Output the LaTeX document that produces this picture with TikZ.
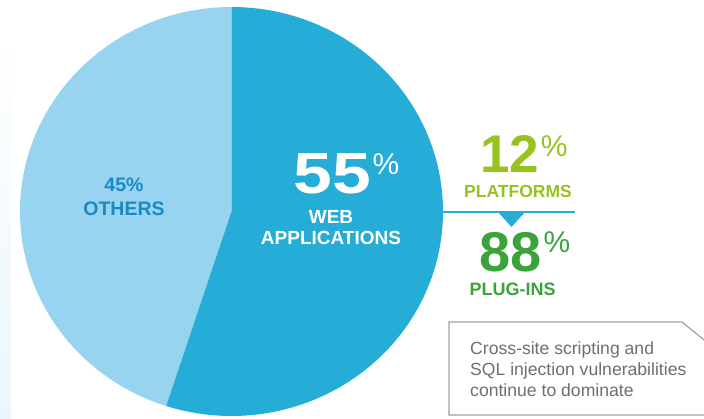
\documentclass[tikz,border=0pt]{standalone}
\usepackage{fontspec}
\setmainfont{Liberation Sans}
\usetikzlibrary{positioning}

\definecolor{pielight}{HTML}{98D3F0}
\definecolor{piedark}{HTML}{25ACD7}
\definecolor{othersblue}{HTML}{1B8AC4}
\definecolor{platgreen}{HTML}{97C21F}
\definecolor{pluggreen}{HTML}{3AA43A}
\definecolor{notegray}{HTML}{6E6E6E}
\definecolor{boxgray}{HTML}{A0A0A0}

\begin{document}
\begin{tikzpicture}[x=1pt,y=1pt,
  lbl/.style={inner sep=0pt,align=center,font=\bfseries\fontsize{19}{21}\selectfont},
  pct/.style={inner sep=0pt,anchor=north west,font=\fontsize{30}{30}\selectfont}]
  \useasboundingbox (0,0) rectangle (704,419);
  \shade[top color=white,bottom color=pielight!20] (0,0) rectangle (11,394);

  \coordinate (c) at (231.5,207.5);
  \fill[pielight] (c) -- (231.5,412) arc[start angle=90,end angle=252,x radius=211.5,y radius=204.5] -- cycle;
  \fill[piedark] (c) -- (231.5,412) arc[start angle=90,end angle=-108,x radius=211.5,y radius=204.5] -- cycle;

  \node[lbl,othersblue,font=\bfseries\fontsize{19.5}{24}\selectfont] (others) at (124,222) {45\%\\OTHERS};

  \node[inner sep=0pt,white,font=\bfseries\fontsize{58}{58}\selectfont] (n55) at (332.5,245) {\scalebox{1.2}[1]{55}};
  \node[pct,white] (p55) at ([xshift=1pt]n55.north east) {\%};
  \node[lbl,white] (web) at (331,191.5) {WEB\\APPLICATIONS};

  % split of the web slice
  \coordinate (split) at (443,207);
  \coordinate (splitend) at (575,207);
  \draw[piedark,line width=2pt] (split) -- (splitend);
  \fill[piedark] (498,207) -- (525,207) -- (511.5,192) -- cycle;

  \node[inner sep=0pt,platgreen,font=\bfseries\fontsize{53}{53}\selectfont] (n12) at (510,265) {12};
  \node[pct,platgreen] (p12) at ([xshift=1pt]n12.north east) {\%};
  \node[lbl,platgreen,font=\bfseries\fontsize{17.5}{21}\selectfont] (platforms) at (518,227.5) {PLATFORMS};

  \node[inner sep=0pt,pluggreen,font=\bfseries\fontsize{56}{56}\selectfont] (n88) at (511,167) {88};
  \node[pct,pluggreen] (p88) at ([xshift=1pt]n88.north east) {\%};
  \node[lbl,pluggreen,font=\bfseries\fontsize{18}{21}\selectfont] (plugins) at (512.5,129.5) {PLUG-INS};

  \draw[boxgray,line width=1.2pt] (704,79) -- (682,97) -- (449,97) -- (449,4) -- (704,4);
  \node[inner sep=0pt,anchor=north west,align=left,notegray,font=\fontsize{17.6}{21}\selectfont] (note) at (470,77)
    {Cross-site scripting and\\SQL injection vulnerabilities\\continue to dominate};
\end{tikzpicture}
\end{document}
